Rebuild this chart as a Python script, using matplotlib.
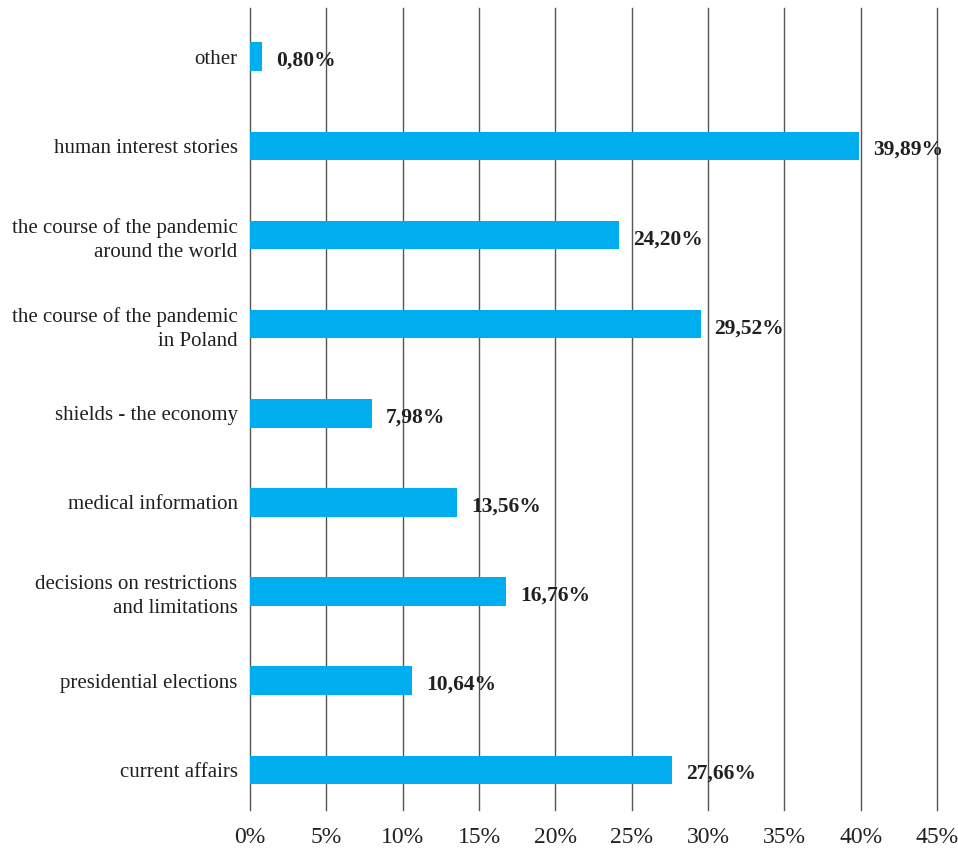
import matplotlib.pyplot as plt
import numpy as np

# data (top to bottom as shown)
categories = ["other", "human interest stories",
              "the course of the pandemic\naround the world",
              "the course of the pandemic\nin Poland",
              "shields - the economy", "medical information",
              "decisions on restrictions\nand limitations",
              "presidential elections", "current affairs"]
values = [0.80, 39.89, 24.20, 29.52, 7.98, 13.56, 16.76, 10.64, 27.66]
labels = ["0,80%", "39,89%", "24,20%", "29,52%", "7,98%", "13,56%",
          "16,76%", "10,64%", "27,66%"]
xticks = [0, 5, 10, 15, 20, 25, 30, 35, 40, 45]

plt.rcParams['font.family'] = ['Liberation Serif', 'DejaVu Serif']

fig = plt.figure(figsize=(9.58, 8.49), dpi=100)
ax = fig.add_axes([0.261, 0.046, 0.717, 0.945])

y = np.arange(len(categories))[::-1]
ax.barh(y, values, height=0.32, color='#00AEEF', zorder=3)

for yy, v, t in zip(y, values, labels):
    ax.annotate(t, (v, yy), xytext=(10, -3), textcoords='offset points',
                ha='left', va='center', fontsize=15.5, fontweight='bold',
                color='#231F20', zorder=4)

ax.set_xlim(0, 45)
ax.set_ylim(-0.45, 8.55)
ax.set_xticks(xticks)
ax.set_xticklabels([f"{t}%" for t in xticks], fontsize=17, color='#231F20')
ax.set_yticks(y)
ax.set_yticklabels(categories, fontsize=15, color='#231F20', linespacing=1.35)
ax.tick_params(axis='both', length=0)
ax.tick_params(axis='x', pad=12)
ax.tick_params(axis='y', pad=9)

for s in ax.spines.values():
    s.set_visible(False)
for t in xticks:
    ax.axvline(t, color='#555555', lw=1, zorder=1, clip_on=False)

fig.savefig("out.png", dpi=100)
